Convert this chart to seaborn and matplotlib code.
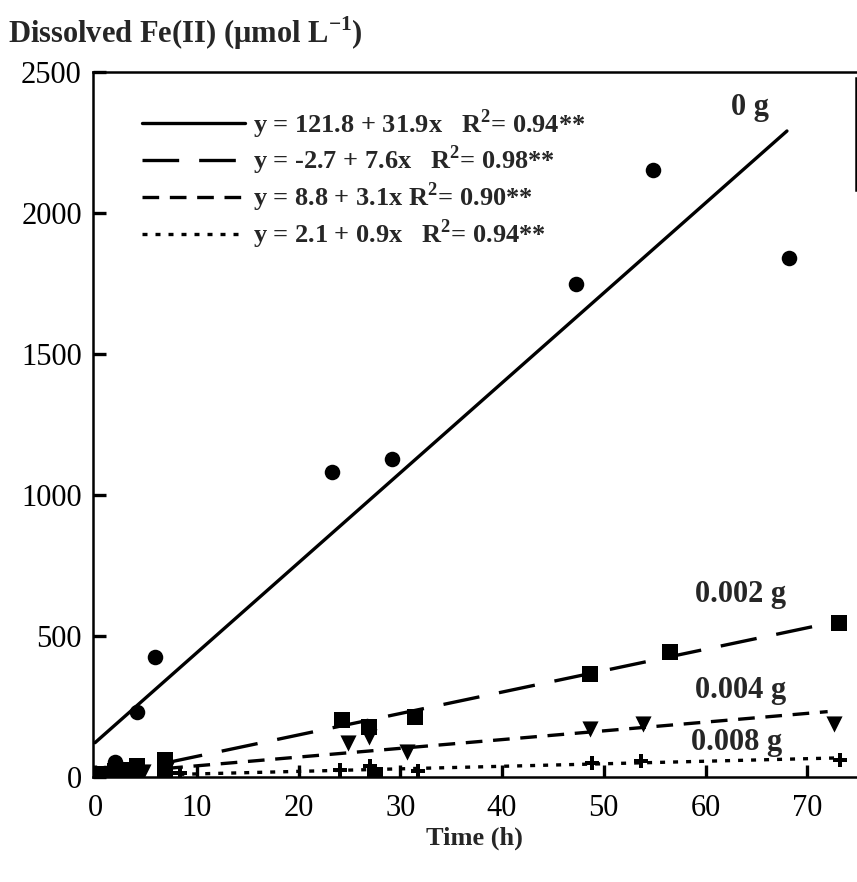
import numpy as np
import pandas as pd
import matplotlib
matplotlib.use("Agg")
import matplotlib.pyplot as plt
import seaborn as sns
from matplotlib.lines import Line2D

# ---- measured dissolved Fe(II) (µmol/L) versus incubation time (h) ----
groups = ["0 g", "0.002 g", "0.004 g", "0.008 g"]

t_0g = [0, 1, 2, 4.1, 5.9, 23.3, 29.2, 47.3, 54.8, 68.2]
fe_0g = [5, 15, 55, 230, 425, 1082, 1128, 1748, 2152, 1840]

t_002 = [0, 0.5, 1, 2, 3, 4.1, 6.9, 6.9, 24.3, 26.9, 27.5, 31.4, 48.6, 56.5, 73.1]
fe_002 = [5, 8, 12, 20, 25, 40, 62, 2, 202, 177, 7, 213, 365, 445, 548]

t_004 = [0, 1, 2, 3, 4.7, 7, 24.9, 26.9, 30.7, 48.6, 53.9, 72.6]
fe_004 = [3, 5, 8, 10, 18, 25, 121, 142, 89, 169, 187, 187]

t_008 = [0, 1, 2, 3, 4, 8.4, 24.1, 27.0, 31.7, 48.8, 53.7, 73.2]
fe_008 = [2, 3, 4, 5, 6, 16, 25, 39, 21, 51, 57, 59]

# linear fits  y = a + b x  and the time span each fit is drawn over
fit_a = [121.8, -2.7, 8.8, 2.1]
fit_b = [31.9, 7.6, 3.1, 0.9]
fit_r2 = ["0.94", "0.98", "0.90", "0.94"]
fit_t0 = [0, 7, 7, 7]
fit_t1 = [68, 72, 72, 73]

axis_ticks_x = [0, 10, 20, 30, 40, 50, 60, 70]
axis_ticks_y = [0, 500, 1000, 1500, 2000, 2500]

# ---- tidy tables ----
pts = pd.concat([
    pd.DataFrame({"time": t, "fe": v, "dose": g})
    for t, v, g in zip([t_0g, t_002, t_004, t_008],
                       [fe_0g, fe_002, fe_004, fe_008], groups)
], ignore_index=True)

fits = []
for g, a, b, t0, t1 in zip(groups, fit_a, fit_b, fit_t0, fit_t1):
    tt = np.linspace(t0, t1, 50)
    fits.append(pd.DataFrame({"time": tt, "fe": a + b * tt, "dose": g}))
fits = pd.concat(fits, ignore_index=True)

# ---- style ----
sns.set_theme(style="ticks")
plt.rcParams["font.family"] = ["Liberation Serif", "DejaVu Serif"]
plt.rcParams["mathtext.fontset"] = "custom"
plt.rcParams["mathtext.rm"] = "Liberation Serif"
plt.rcParams["mathtext.bf"] = "Liberation Serif:bold"

fig = plt.figure(figsize=(8.57, 8.82), dpi=100)
ax = fig.add_axes([0.1085, 0.119, 0.8905, 0.7993])

dash_styles = {"0 g": "", "0.002 g": (11, 6), "0.004 g": (5, 3.2), "0.008 g": (1.5, 2.4)}
sns.lineplot(data=fits, x="time", y="fe", hue="dose", style="dose",
             dashes=dash_styles, palette=["black"] * 4, linewidth=2.4,
             legend=False, ax=ax, sort=False)

marker_map = {"0 g": "o", "0.002 g": "s", "0.004 g": "v", "0.008 g": "P"}
sizes_map = {"0 g": 125, "0.002 g": 120, "0.004 g": 135, "0.008 g": 95}
for g in groups:
    sub = pts[pts["dose"] == g]
    sns.scatterplot(data=sub, x="time", y="fe", marker=marker_map[g],
                    s=sizes_map[g], color="black", edgecolor="black",
                    linewidth=0, legend=False, ax=ax, zorder=3)

ax.set_xlim(-0.2, 74.8)
ax.set_ylim(0, 2500)
ax.set_xticks(axis_ticks_x)
ax.set_yticks(axis_ticks_y)
ax.tick_params(direction="in", length=9, width=2.4, labelsize=22,
               colors="black", pad=8)
ax.tick_params(axis="x", pad=12)
ax.set_xlabel("Time (h)", fontsize=19, fontweight="bold", labelpad=3)
ax.set_ylabel("")

for side in ["left", "bottom", "top"]:
    ax.spines[side].set_linewidth(1.8)
    ax.spines[side].set_color("black")
ax.spines["right"].set_linewidth(1.8)
ax.spines["right"].set_color("black")
ax.spines["right"].set_bounds(2080, 2480)

# dose labels beside the fitted lines
dose_pos = {"0 g": (64.4, 2375), "0.002 g": (63.4, 649),
            "0.004 g": (63.4, 308), "0.008 g": (63.0, 124)}
for g, (x, y) in dose_pos.items():
    ax.text(x, y, g, fontsize=22, fontweight="bold", ha="center", va="center")

# fit equations as legend
def fmt_eq(a, b, r2, wide=True):
    gap = "   " if wide else " "
    return f"y = {a} + {b}x{gap}R$^{{\\mathbf{{2}}}}$= {r2}**"

labels = [fmt_eq(a, b, r, w) for a, b, r, w in
          zip(fit_a, fit_b, fit_r2, [True, True, False, True])]
handles = [Line2D([], [], color="black", lw=2.4, ls="-")]
for g in groups[1:]:
    handles.append(Line2D([], [], color="black", lw=2.4,
                          ls=(0, dash_styles[g])))
leg = ax.legend(handles, labels, loc="upper left",
                bbox_to_anchor=(0.033, 0.984), frameon=False,
                handlelength=3.9, handletextpad=0.3, labelspacing=0.12,
                prop={"family": "Liberation Serif", "weight": "bold", "size": 19})

fig.text(0.009, 0.962, r"Dissolved Fe(II) ($\mathbf{\mu}$mol L$^{\mathbf{-1}}$)",
         fontsize=22, fontweight="bold", ha="left", va="center")

fig.savefig("out.png", dpi=100, facecolor="white")
